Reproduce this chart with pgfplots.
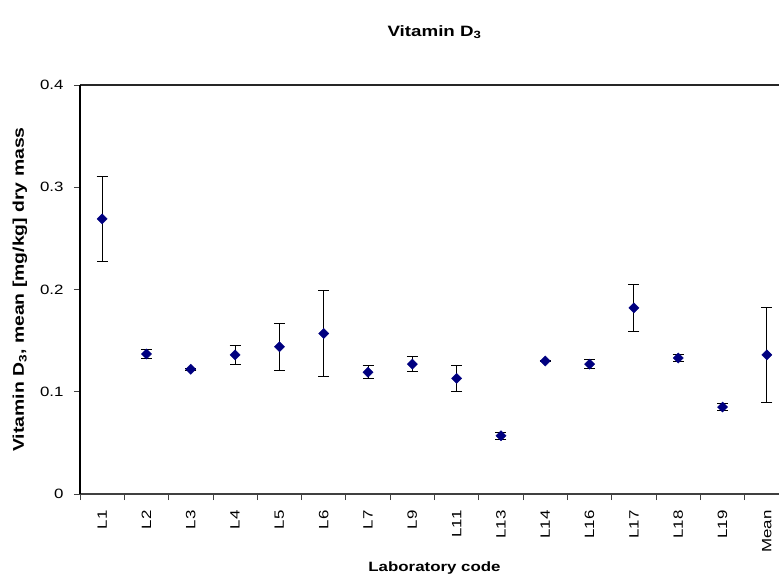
\documentclass[border=0pt]{standalone}
\usepackage{pgfplots}
\pgfplotsset{compat=1.18}
\usepackage{pgfplotstable}
\usepackage{fontspec}
\setmainfont{Liberation Sans}[FakeStretch=1.25]

\definecolor{marknavy}{RGB}{0,0,128}
\definecolor{axisgray}{RGB}{64,64,64}

% laboratory index, mean, standard deviation
\pgfplotstableread{
x  y      e
0  0.269  0.0415
1  0.137  0.0047
2  0.122  0.0012
3  0.136  0.0093
4  0.144  0.0232
5  0.157  0.0425
6  0.119  0.0062
7  0.127  0.0070
8  0.113  0.0127
9  0.057  0.0036
10 0.130  0.0008
11 0.127  0.0042
12 0.182  0.0233
13 0.133  0.0030
14 0.085  0.0035
15 0.136  0.0465
}\vitd

\begin{document}
\begin{tikzpicture}
\clip (-80bp,-85bp) rectangle (699bp,494bp);
\begin{axis}[
  scale only axis,
  width=709bp, height=409bp,
  xmin=-0.5, xmax=15.5,
  ymin=0, ymax=0.4,
  clip=false,
  axis line style={draw=none},
  tick align=outside,
  xtick pos=left, ytick pos=left,
  major tick length=6bp,
  tick style={axisgray, line width=0.8bp},
  xtick={-0.5,0.5,...,15.5},
  xticklabels={},
  extra x ticks={0,...,15},
  extra x tick labels={L1,L2,L3,L4,L5,L6,L7,L9,L11,L13,L14,L16,L17,L18,L19,Mean},
  extra x tick style={major tick length=0pt,
    tick label style={rotate=90, anchor=east, xshift=-13bp}},
  ytick={0,0.1,0.2,0.3,0.4},
  yticklabels={0,0.1,0.2,0.3,0.4},
  yticklabel style={xshift=-7bp},
  /pgf/number format/assume math mode=true,
  tick label style={font=\fontsize{13.5bp}{16bp}\selectfont},
  title={Vitamin D\textsubscript{3}},
  title style={at={(rel axis cs:0.5,1.115)}, anchor=center,
    font=\bfseries\fontsize{15bp}{18bp}\selectfont},
  xlabel={Laboratory code},
  xlabel style={at={(rel axis cs:0.5,-0.181)}, anchor=center,
    font=\bfseries\fontsize{13.5bp}{16bp}\selectfont},
  ylabel={Vitamin D\textsubscript{3}, mean [mg/kg] dry mass},
  ylabel style={at={(rel axis cs:-0.0846,0.5)}, anchor=center, rotate=0,
    font=\bfseries\fontsize{15.5bp}{18bp}\selectfont},
]
\draw[axisgray, line width=2bp] (rel axis cs:0,0) -- (rel axis cs:1,0);
\draw[black!85, line width=1.2bp] (rel axis cs:0,1) -- (rel axis cs:1,1);
\draw[black, line width=2bp] (rel axis cs:0,0) -- (rel axis cs:0,1);
\addplot[
  only marks,
  mark=square*,
  mark size=3.6bp,
  mark options={rotate=45, fill=marknavy, draw=marknavy},
  error bars/.cd,
    y dir=both, y explicit,
    error bar style={black, line width=1bp},
    error mark options={rotate=90, black, mark size=5.5bp, line width=1bp},
] table[x=x, y=y, y error=e] {\vitd};
\end{axis}
\end{tikzpicture}
\end{document}
